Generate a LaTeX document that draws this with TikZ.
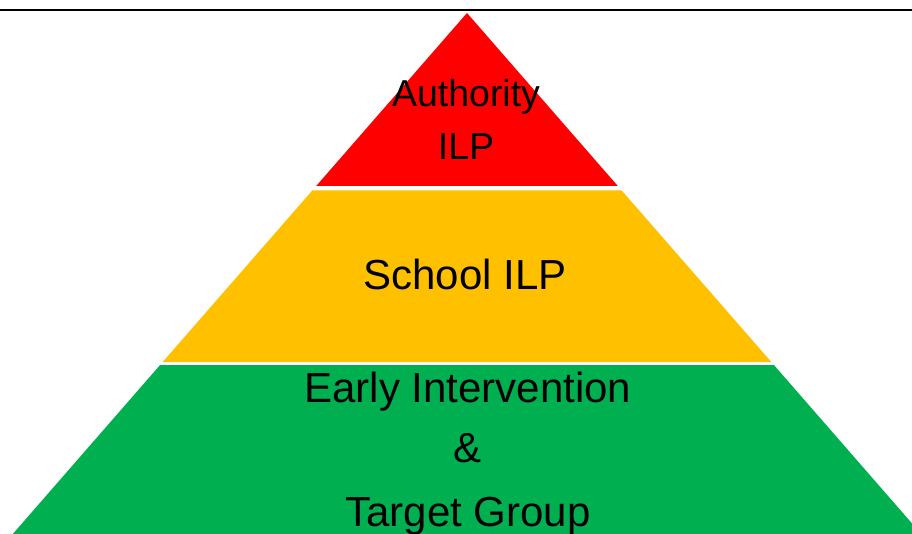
\documentclass[tikz,border=0pt]{standalone}
\usepackage{fontspec}
\setmainfont{Liberation Sans}
\definecolor{tierred}{HTML}{FF0000}
\definecolor{tieryellow}{HTML}{FFC000}
\definecolor{tiergreen}{HTML}{00B050}
\begin{document}
\begin{tikzpicture}[x=1pt,y=-1pt,
  lbl/.style={anchor=base,inner sep=0pt,text=black},
  small/.style={lbl,font=\fontsize{37.5}{40}\selectfont},
  big/.style={lbl,font=\fontsize{42}{46}\selectfont}]
\useasboundingbox (0,0) rectangle (912,534);
\fill[white] (0,0) rectangle (912,534);
\draw[line width=2pt,black] (0,10) -- (912,10);
% tiers
\fill[tierred] (467,13) -- (617.8,186) -- (316.2,186) -- cycle;
\fill[tieryellow] (312.3,190.5) -- (621.7,190.5) -- (771.3,362) -- (162.7,362) -- cycle;
\fill[tiergreen] (160.1,365) -- (773.9,365) -- (921.2,534) -- (12.8,534) -- cycle;
% labels
\node[small] (auth1) at (466,107) {Authority};
\node[small] (auth2) at (466,160) {ILP};
\node[big] (school) at (465,289.3) {School ILP};
\node[big] (early1) at (468,402.3) {Early Intervention};
\node[big] (early2) at (467,462.7) {\&};
\node[big] (early3) at (468,526.7) {Target Group};
\end{tikzpicture}
\end{document}
